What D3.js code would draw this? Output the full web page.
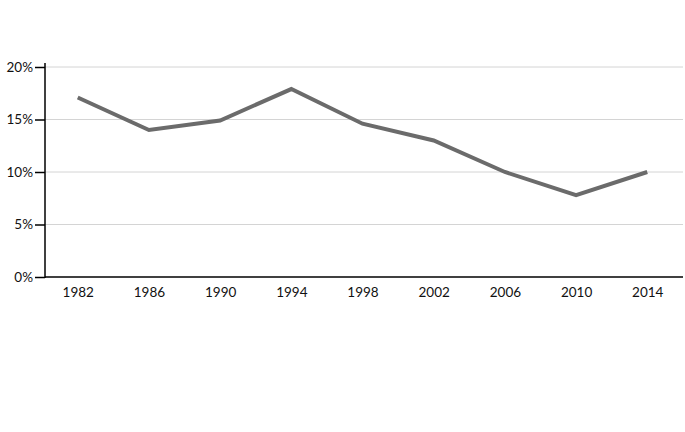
<!DOCTYPE html>
<html><head><meta charset="utf-8">
<script src="https://cdn.jsdelivr.net/npm/d3@7"></script>
<style>
html,body{margin:0;padding:0;background:#fff;}
svg{display:block;}
text{font-family:Lato,"Open Sans",sans-serif;font-size:13.5px;fill:#111;}
</style></head><body>
<svg id="chart" width="685" height="432"></svg>
<script>
const years = ["1982","1986","1990","1994","1998","2002","2006","2010","2014"];
const shares = [17.1, 14.0, 14.9, 17.9, 14.6, 13.0, 10.0, 7.8, 10.0];
const yTicks = [0, 5, 10, 15, 20];

const svg = d3.select("#chart");
const mLeft = 45, mRight = 683, mTop = 67, mBottom = 277;

const x = d3.scalePoint().domain(years).range([mLeft, 680]).padding(0.46);
const y = d3.scaleLinear().domain([0, 20]).range([mBottom, mTop]);

// gridlines
svg.append("g").selectAll("line").data(yTicks.filter(d => d > 0)).join("line")
  .attr("x1", mLeft).attr("x2", mRight)
  .attr("y1", d => y(d)).attr("y2", d => y(d))
  .attr("stroke", "#d4d4d4").attr("stroke-width", 1);

// y axis
const yAxis = svg.append("g").attr("transform", `translate(${mLeft},0)`)
  .call(d3.axisLeft(y).tickValues(yTicks).tickFormat(d => d + "%").tickSize(10).tickSizeOuter(0).tickPadding(2));
yAxis.select(".domain").remove();
yAxis.selectAll(".tick line").attr("stroke", "#000").attr("stroke-width", 1.5);
yAxis.selectAll("text").attr("font-size", null).attr("font-family", null).attr("fill", "#111");
svg.append("line").attr("x1", mLeft).attr("x2", mLeft).attr("y1", mTop - 4).attr("y2", mBottom + 1)
  .attr("stroke", "#000").attr("stroke-width", 1.5);

// x axis
const xAxis = svg.append("g").attr("transform", `translate(0,${mBottom})`)
  .call(d3.axisBottom(x).tickSize(0).tickPadding(10));
xAxis.select(".domain").remove();
xAxis.selectAll("text").attr("font-size", null).attr("font-family", null).attr("fill", "#111");
svg.append("line").attr("x1", mLeft).attr("x2", mRight).attr("y1", mBottom).attr("y2", mBottom)
  .attr("stroke", "#000").attr("stroke-width", 1.5);

// line
const line = d3.line().x((d, i) => x(years[i])).y(d => y(d));
svg.append("path").datum(shares).attr("d", line)
  .attr("fill", "none").attr("stroke", "#6b6b6b").attr("stroke-width", 4)
  .attr("stroke-linejoin", "miter").attr("stroke-linecap", "butt");
</script>
</body></html>
